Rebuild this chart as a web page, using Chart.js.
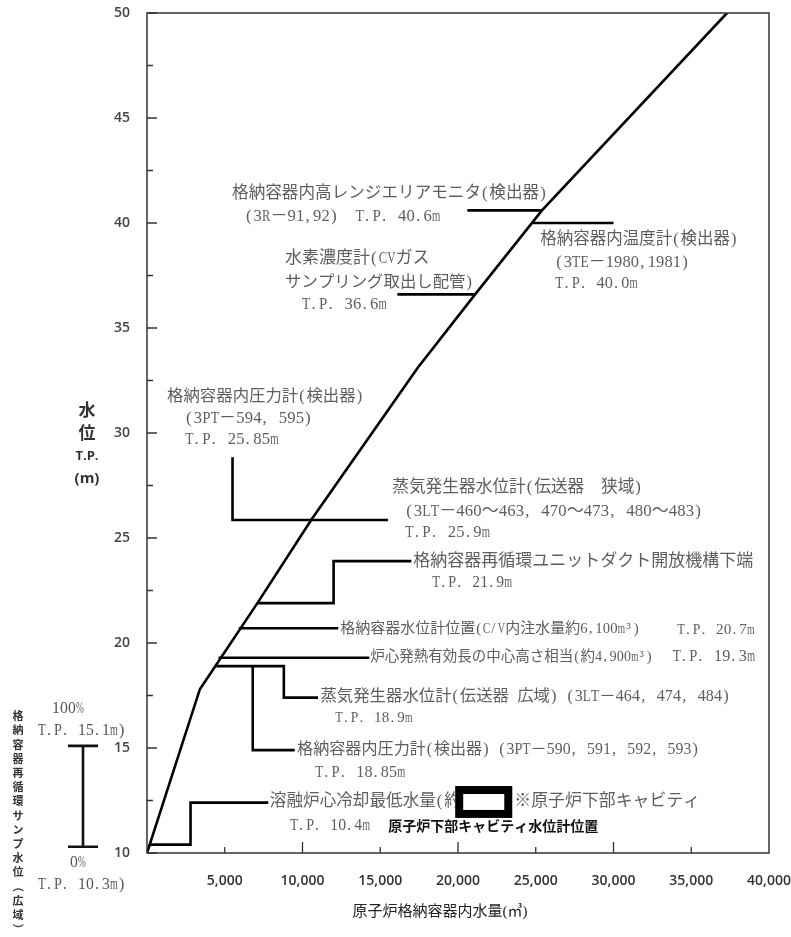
<!DOCTYPE html>
<html>
<head>
<meta charset="utf-8">
<script src="https://cdn.jsdelivr.net/npm/chart.js@4.4.1/dist/chart.umd.min.js"></script>
<style>
  html, body { margin: 0; background: #fff; }
</style>
</head>
<body>
<canvas id="chart" width="791" height="937"></canvas>
<script>
// water volume in the containment (m3) vs water level T.P. (m)
const volume = [0, 3400, 4400, 7100, 10600, 17400, 21100, 25400, 37300];
const level  = [10, 17.8, 18.9, 21.9, 25.9, 33.1, 36.6, 40.6, 50];

const xTickStep = 5000;
const yTickStep = 2.5;

// leader lines from the curve to each instrument note
const monitorX  = [20600, 25400],              monitorY  = [40.6, 40.6];
const tempX     = [24800, 30000],              tempY     = [40.0, 40.0];
const hydrogenX = [16100, 21100],              hydrogenY = [36.6, 36.6];
const pressHiX  = [5500, 5500, 15500],         pressHiY  = [28.85, 25.86, 25.86];
const ductX     = [7100, 12000, 12000, 17000], ductY     = [21.9, 21.9, 23.9, 23.9];
const cvLevelX  = [5900, 12300],               cvLevelY  = [20.7, 20.7];
const coreX     = [4600, 14300],               coreY     = [19.3, 19.3];
const sgWideX   = [4400, 8800, 8800, 11000],   sgWideY   = [18.9, 18.9, 17.4, 17.4];
const pressLoX  = [6800, 6800, 9500],          pressLoY  = [18.9, 14.9, 14.9];
const minWaterX = [175, 2800, 2800, 7800],     minWaterY = [10.4, 10.4, 12.4, 12.4];

// sump water level range (0% .. 100%)
const sumpRange = [10.3, 15.1];
// masked box
const maskX = [19820, 23490], maskY = [11.67, 13.19];

// notes: text, volume, level, font size
const notes = [
  ['格納容器内高レンジエリアモニタ(検出器)', 5470, 41.38, 16.6],
  ['(3R－91,92)　T.P. 40.6m', 6300, 40.29, 17],
  ['格納容器内温度計(検出器)', 25290, 39.19, 16.5],
  ['(3TE－1980,1981)', 26250, 38.1, 16.8],
  ['T.P. 40.0m', 26250, 37.1, 16.5],
  ['水素濃度計(CVガス', 8880, 38.33, 17],
  ['サンプリング取出し配管)', 8880, 37.14, 16.4],
  ['T.P. 36.6m', 9970, 36.1, 17],
  ['格納容器内圧力計(検出器)', 1290, 31.71, 16.4],
  ['(3PT－594, 595)', 2450, 30.71, 17],
  ['T.P. 25.85m', 2450, 29.67, 17],
  ['蒸気発生器水位計(伝送器　狭域)', 15770, 27.38, 16.7],
  ['(3LT－460〜463, 470〜473, 480〜483)', 16600, 26.24, 17],
  ['T.P. 25.9m', 16600, 25.24, 17],
  ['格納容器再循環ユニットダクト開放機構下端', 17120, 23.86, 17],
  ['T.P. 21.9m', 18340, 22.86, 16],
  ['格納容器水位計位置(C/V内注水量約6,100m³)', 12420, 20.64, 15],
  ['T.P. 20.7m', 34100, 20.64, 15.5],
  ['炉心発熱有効長の中心高さ相当(約4,900m³)', 14350, 19.33, 14.5],
  ['T.P. 19.3m', 33800, 19.33, 16.5],
  ['蒸気発生器水位計(伝送器 広域) (3LT－464, 474, 484)', 11150, 17.43, 16.4],
  ['T.P. 18.9m', 12100, 16.43, 15.5],
  ['格納容器内圧力計(検出器) (3PT－590, 591, 592, 593)', 9650, 14.9, 16.1],
  ['T.P. 18.85m', 10810, 13.81, 16.4],
  ['溶融炉心冷却最低水量(約', 7900, 12.43, 16.6],
  ['※原子炉下部キャビティ', 23620, 12.43, 16.9],
  ['T.P. 10.4m', 9200, 11.29, 16]
];

const TICK_FONT = { family: '"Open Sans", sans-serif', size: 14, weight: '600' };

function pts(xs, ys) {
  return xs.map((x, i) => ({ x: x, y: ys[i] }));
}

function line(xs, ys) {
  return {
    data: pts(xs, ys),
    showLine: true,
    borderColor: '#000',
    borderWidth: 2.6,
    pointRadius: 0,
    fill: false
  };
}

// draws text with half-width latin cells, like a Japanese Mincho face
function drawNote(ctx, text, x, y, size) {
  ctx.font = size + 'px "Liberation Serif", "Noto Sans CJK JP", serif';
  let cx = x;
  for (const ch of text) {
    const code = ch.codePointAt(0);
    if (code < 0x2000) {
      const cell = size / 2;
      const w = ctx.measureText(ch).width;
      if (w > cell * 0.98) {
        const k = cell * 0.98 / w;
        ctx.save();
        ctx.translate(cx + cell * 0.01, y);
        ctx.scale(k, 1);
        ctx.fillText(ch, 0, 0);
        ctx.restore();
      } else {
        ctx.fillText(ch, cx + Math.min((cell - w) / 2, 1), y);
      }
      cx += cell;
    } else {
      ctx.fillText(ch, cx, y);
      cx += size;
    }
  }
}

const extras = {
  id: 'extras',
  afterDraw(chart) {
    const ctx = chart.ctx;
    const a = chart.chartArea;
    const xs = chart.scales.x, ys = chart.scales.y;
    ctx.save();

    // frame
    ctx.strokeStyle = '#333';
    ctx.lineWidth = 1.5;
    ctx.strokeRect(a.left, a.top, a.right - a.left, a.bottom - a.top);

    // inside ticks
    ctx.lineWidth = 1.3;
    ctx.beginPath();
    for (let v = 10; v <= 50; v += yTickStep) {
      const py = ys.getPixelForValue(v);
      const len = v % 5 === 0 ? 10 : 6;
      ctx.moveTo(a.left, py);
      ctx.lineTo(a.left + len, py);
    }
    for (let v = xTickStep; v < 40000; v += xTickStep) {
      const px = xs.getPixelForValue(v);
      const len = v % 10000 === 0 ? 11 : 6;
      ctx.moveTo(px, a.bottom);
      ctx.lineTo(px, a.bottom - len);
    }
    ctx.stroke();

    // notes
    ctx.fillStyle = '#5e5e5e';
    ctx.textBaseline = 'middle';
    ctx.textAlign = 'left';
    notes.forEach(n => {
      drawNote(ctx, n[0], xs.getPixelForValue(n[1]), ys.getPixelForValue(n[2]), n[3]);
    });

    // bold note
    ctx.font = 'bold 14px "Noto Sans CJK JP", sans-serif';
    ctx.fillStyle = '#111';
    ctx.fillText('原子炉下部キャビティ水位計位置', xs.getPixelForValue(15510), ys.getPixelForValue(11.29));

    // masked box
    const bx0 = xs.getPixelForValue(maskX[0]), bx1 = xs.getPixelForValue(maskX[1]);
    const by0 = ys.getPixelForValue(maskY[1]), by1 = ys.getPixelForValue(maskY[0]);
    ctx.fillStyle = '#fff';
    ctx.fillRect(bx0, by0, bx1 - bx0, by1 - by0);
    ctx.strokeStyle = '#000';
    ctx.lineWidth = 8;
    ctx.strokeRect(bx0 + 4, by0 + 4, bx1 - bx0 - 8, by1 - by0 - 8);

    // y axis title
    ctx.fillStyle = '#333';
    ctx.textAlign = 'center';
    ctx.font = 'bold 17px "Noto Sans CJK JP", sans-serif';
    ctx.fillText('水', 87, 410);
    ctx.fillText('位', 87, 433);
    ctx.font = 'bold 13px "Open Sans", sans-serif';
    ctx.fillText('T.P.', 87, 456);
    ctx.font = 'bold 15px "Open Sans", sans-serif';
    ctx.fillText('(m)', 87, 479);

    // sump level range bar
    const sx = 83;
    const s0 = ys.getPixelForValue(sumpRange[0]);
    const s1 = ys.getPixelForValue(sumpRange[1]);
    ctx.strokeStyle = '#111';
    ctx.lineWidth = 2.6;
    ctx.beginPath();
    ctx.moveTo(sx, s0); ctx.lineTo(sx, s1);
    ctx.moveTo(sx - 15, s0); ctx.lineTo(sx + 15, s0);
    ctx.moveTo(sx - 15, s1); ctx.lineTo(sx + 15, s1);
    ctx.stroke();
    ctx.fillStyle = '#555';
    ctx.textAlign = 'left';
    drawNote(ctx, '100%', 52, s1 - 37, 16);
    drawNote(ctx, 'T.P. 15.1m)', 38, s1 - 15, 16);
    drawNote(ctx, '0%', 70, s0 + 16, 16);
    drawNote(ctx, 'T.P. 10.3m)', 38, s0 + 38, 16);

    // vertical caption
    const cap = '格納容器再循環サンプ水位（広域）';
    ctx.textAlign = 'center';
    ctx.font = 'bold 11px "Noto Sans CJK JP", sans-serif';
    ctx.fillStyle = '#333';
    for (let i = 0; i < cap.length; i++) {
      const ch = cap[i];
      const cy = 716 + i * 14.2;
      if (ch === '（' || ch === '）') {
        ctx.save();
        ctx.translate(18, cy);
        ctx.rotate(Math.PI / 2);
        ctx.fillText(ch, 0, 0);
        ctx.restore();
      } else {
        ctx.fillText(ch, 18, cy);
      }
    }

    // x axis title
    ctx.font = '15px "Liberation Serif", "Noto Sans CJK JP", serif';
    ctx.fillStyle = '#222';
    ctx.fillText('原子炉格納容器内水量(㎥)', 440, 912);

    ctx.restore();
  }
};

new Chart(document.getElementById('chart'), {
  type: 'scatter',
  data: {
    datasets: [
      line(volume, level),
      line(monitorX, monitorY),
      line(tempX, tempY),
      line(hydrogenX, hydrogenY),
      line(pressHiX, pressHiY),
      line(ductX, ductY),
      line(cvLevelX, cvLevelY),
      line(coreX, coreY),
      line(sgWideX, sgWideY),
      line(pressLoX, pressLoY),
      line(minWaterX, minWaterY)
    ]
  },
  options: {
    responsive: false,
    animation: false,
    layout: { padding: { top: 13, right: 22, left: 0, bottom: 0 } },
    plugins: {
      legend: { display: false },
      tooltip: { enabled: false }
    },
    scales: {
      x: {
        type: 'linear',
        min: 0,
        max: 40000,
        border: { display: false },
        grid: { display: false, drawTicks: false },
        ticks: {
          stepSize: xTickStep,
          padding: 20,
          color: '#333',
          font: TICK_FONT,
          maxRotation: 0,
          callback: v => v === 0 ? '' : v.toLocaleString('en-US')
        },
        afterFit: s => {
          s.height = 84;
          s.paddingLeft = 0;
          s.paddingRight = 0;
        }
      },
      y: {
        type: 'linear',
        min: 10,
        max: 50,
        border: { display: false },
        grid: { display: false, drawTicks: false },
        ticks: {
          stepSize: yTickStep,
          padding: 17,
          color: '#444',
          font: TICK_FONT,
          callback: v => v % 5 === 0 ? String(v) : ''
        },
        afterFit: s => {
          s.width = 147;
          s.paddingTop = 0;
          s.paddingBottom = 0;
        }
      }
    }
  },
  plugins: [extras]
});
</script>
</body>
</html>
